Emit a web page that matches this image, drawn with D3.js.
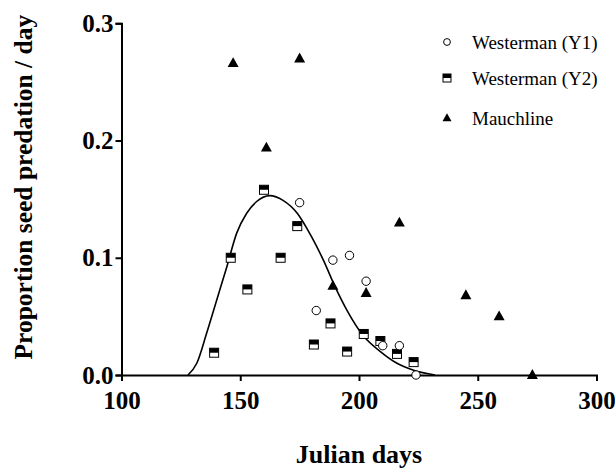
<!DOCTYPE html>
<html>
<head>
<meta charset="utf-8">
<script src="https://cdn.jsdelivr.net/npm/d3@7"></script>
<style>
  body { margin: 0; background: #fff; }
  svg { display: block; }
  text { font-family: "Liberation Serif", "Times New Roman", Times, "DejaVu Serif", serif; }
  .axis path, .axis line { stroke: #000; stroke-width: 2px; }
  .axis text { font-size: 25px; font-weight: bold; fill: #000; }
</style>
</head>
<body>
<svg id="chart" width="615" height="468"></svg>
<script>
// data
const daysY1 = [175, 182, 189, 196, 203, 210, 217, 224];
const valsY1 = [0.147, 0.055, 0.098, 0.102, 0.080, 0.025, 0.025, 0.0];

const daysY2 = [139, 146, 153, 160, 167, 174, 181, 188, 195, 202, 209, 216, 223];
const valsY2 = [0.019, 0.100, 0.073, 0.158, 0.100, 0.127, 0.026, 0.044, 0.020, 0.035, 0.029, 0.018, 0.011];

const daysMauch = [147, 161, 175, 189, 203, 217, 245, 259, 273];
const valsMauch = [0.266, 0.194, 0.270, 0.076, 0.070, 0.130, 0.068, 0.050, 0.0];

// fitted curve
const fitDays = [128, 131.7, 135.9, 140.1, 144.3, 148.5, 152.7, 156.9, 162.5, 168, 174, 180, 185, 190, 195, 202, 209, 216, 223, 232];
const fitVals = [0, 0.010, 0.036, 0.064, 0.092, 0.121, 0.138, 0.148, 0.153, 0.149, 0.138, 0.118, 0.098, 0.075, 0.055, 0.033, 0.020, 0.010, 0.004, 0.0];

const xTicks = [100, 150, 200, 250, 300];
const yTicks = [0.0, 0.1, 0.2, 0.3];
const legendNames = ["Westerman (Y1)", "Westerman (Y2)", "Mauchline"];

const serif = "'Liberation Serif', 'Times New Roman', Times, 'DejaVu Serif', serif";

const svg = d3.select("#chart");
const mLeft = 121.5, mRight = 596.5, mTop = 23.3, mBottom = 375;

const x = d3.scaleLinear().domain([100, 300]).range([mLeft, mRight]);
const y = d3.scaleLinear().domain([0, 0.3]).range([mBottom, mTop]);

// axes
svg.append("g")
    .attr("class", "axis")
    .attr("transform", "translate(0," + mBottom + ")")
    .call(d3.axisBottom(x).tickValues(xTicks).tickSizeOuter(0).tickSize(6).tickPadding(10).tickFormat(d3.format("d")));

svg.append("g")
    .attr("class", "axis")
    .attr("transform", "translate(" + mLeft + ",0)")
    .call(d3.axisLeft(y).tickValues(yTicks).tickSizeOuter(0).tickSize(6).tickPadding(2).tickFormat(d3.format(".1f")));

svg.selectAll(".axis").attr("font-family", serif).attr("font-size", null);

// fitted curve
const line = d3.line()
    .x((d, i) => x(fitDays[i]))
    .y(d => y(d))
    .curve(d3.curveMonotoneX);

svg.append("path")
    .datum(fitVals)
    .attr("d", line)
    .attr("fill", "none")
    .attr("stroke", "#000")
    .attr("stroke-width", 1.6);

// marker helpers
function circle(g, cx, cy, r) {
    g.append("circle").attr("cx", cx).attr("cy", cy).attr("r", r)
        .attr("fill", "#fff").attr("stroke", "#000").attr("stroke-width", 1);
}
function halfSquare(g, cx, cy, s) {
    g.append("rect").attr("x", cx - s / 2).attr("y", cy - s / 2).attr("width", s).attr("height", s)
        .attr("fill", "#fff").attr("stroke", "#000").attr("stroke-width", 1);
    g.append("rect").attr("x", cx - s / 2).attr("y", cy - s / 2).attr("width", s).attr("height", s * 0.5)
        .attr("fill", "#000");
}
function triangle(g, cx, cy, s) {
    const h = s * 0.9;
    g.append("path")
        .attr("d", "M" + cx + "," + (cy - h * 0.6) + "L" + (cx + s / 2) + "," + (cy + h * 0.4) + "L" + (cx - s / 2) + "," + (cy + h * 0.4) + "Z")
        .attr("fill", "#000");
}

const pts = svg.append("g");
daysY2.forEach((d, i) => halfSquare(pts, x(d), y(valsY2[i]), 9));
daysMauch.forEach((d, i) => triangle(pts, x(d), y(valsMauch[i]), 11));
daysY1.forEach((d, i) => circle(pts, x(d), y(valsY1[i]), 4.2));

// legend
const legend = svg.append("g");
const legY = [42, 78, 118];
circle(legend, 447, legY[0], 3.4);
halfSquare(legend, 447, legY[1], 8);
triangle(legend, 447, legY[2], 9);
legend.selectAll("text")
    .data(legendNames)
    .join("text")
    .attr("x", 472)
    .attr("y", (d, i) => legY[i])
    .attr("dy", "0.35em")
    .attr("font-family", serif)
    .attr("font-size", 19)
    .text(d => d);

// axis titles
svg.append("text")
    .attr("x", (mLeft + mRight) / 2)
    .attr("y", 463)
    .attr("text-anchor", "middle")
    .attr("font-family", serif)
    .attr("font-size", 26)
    .attr("font-weight", "bold")
    .text("Julian days");

svg.append("text")
    .attr("transform", "translate(32," + ((mTop + mBottom) / 2 - 12) + ") rotate(-90)")
    .attr("text-anchor", "middle")
    .attr("font-family", serif)
    .attr("font-size", 25.5)
    .attr("font-weight", "bold")
    .text("Proportion seed predation / day");
</script>
</body>
</html>
